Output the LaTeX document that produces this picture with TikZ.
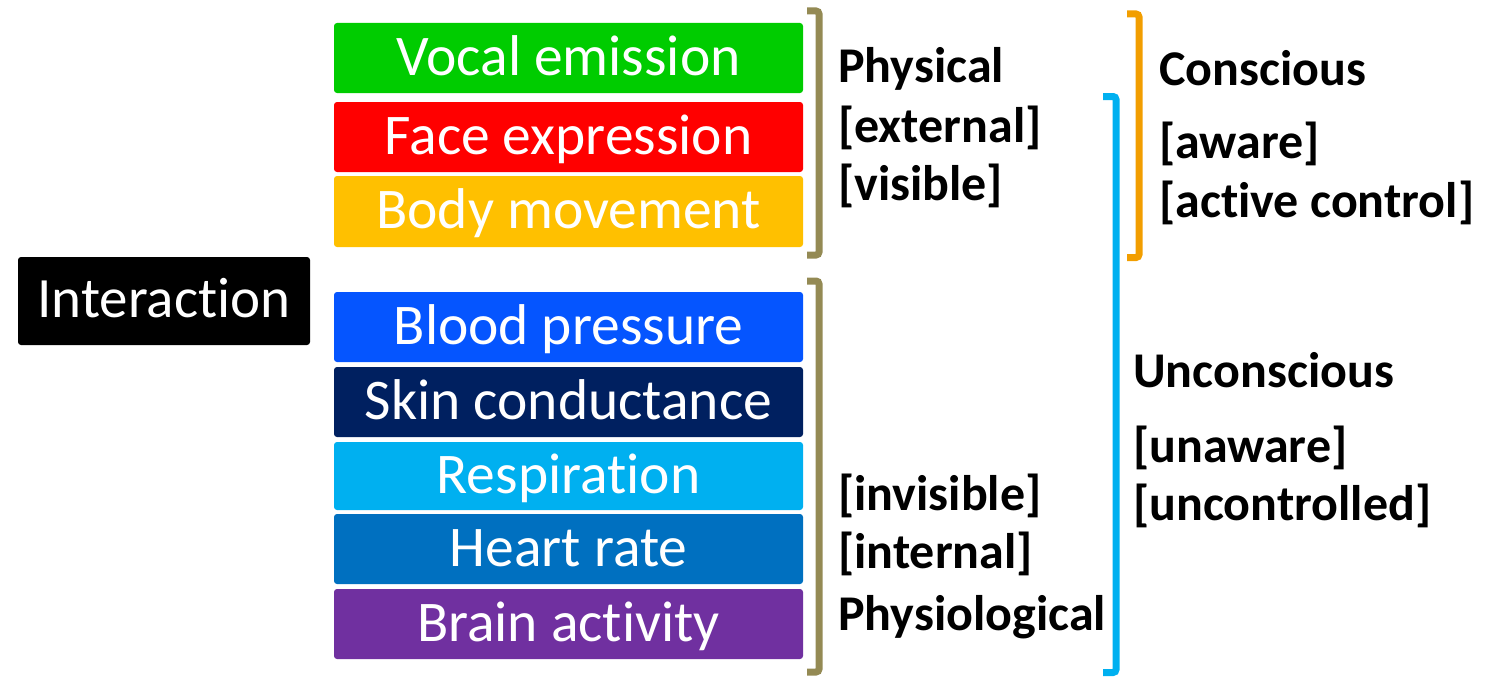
\documentclass[tikz,border=0pt]{standalone}
\usepackage{fontspec}
\setmainfont[Ligatures=NoCommon]{Carlito}
\definecolor{cgreen}{RGB}{0,204,0}
\definecolor{cred}{RGB}{255,0,0}
\definecolor{cyellow}{RGB}{255,192,0}
\definecolor{cblue}{RGB}{5,85,255}
\definecolor{cnavy}{RGB}{0,32,96}
\definecolor{ccyan}{RGB}{0,176,240}
\definecolor{cmid}{RGB}{0,112,192}
\definecolor{cpurple}{RGB}{112,48,160}
\definecolor{colive}{RGB}{148,138,84}
\definecolor{corange}{RGB}{242,158,0}
\begin{document}
\begin{tikzpicture}[x=1pt,y=-1pt,
  box/.style={fill=#1, text=white, rounded corners=3pt, minimum width=469pt,
    minimum height=70pt, inner sep=0pt, text height=40pt, text depth=6pt,
    font=\fontsize{57.5}{60}\selectfont},
  lbl/.style={anchor=base west, inner sep=0pt, font=\bfseries\fontsize{50}{52}\selectfont},
  brk/.style={line width=7pt, rounded corners=3pt}]
\useasboundingbox (0,0) rectangle (1505,693);
\node[fill=black, text=white, rounded corners=3pt, minimum width=292pt, minimum height=88pt,
  inner sep=0pt, text height=38pt, text depth=6pt, font=\fontsize{57}{60}\selectfont]
  (inter) at (164,301) {Interaction};
\node[box=cgreen] (vocal) at (568.5,58) {Vocal emission};
\node[box=cred] (face) at (568.5,137) {Face expression};
\node[box=cyellow, minimum height=71pt] (body) at (568.5,211.5) {Body movement};
\node[box=cblue] (blood) at (568.5,327) {Blood pressure};
\node[box=cnavy] (skin) at (568.5,402) {Skin conductance};
\node[box=ccyan, minimum height=68pt] (resp) at (568.5,476) {Respiration};
\node[box=cmid] (heart) at (568.5,549) {Heart rate};
\node[box=cpurple] (brain) at (568.5,624) {Brain activity};
% brackets
\draw[brk, colive] (807,11) -- (819,11) -- (819,255) -- (807,255);
\draw[brk, colive] (807,281) -- (819,281) -- (819,672) -- (807,672);
\draw[brk, corange] (1127,14) -- (1139,14) -- (1139,257.5) -- (1127,257.5);
\draw[brk, ccyan] (1103,96.5) -- (1116,96.5) -- (1116,672.5) -- (1103,672.5);
% labels
\node[lbl] (phys) at (838,82) {Physical};
\node[lbl] (ext) at (838,142) {[external]};
\node[lbl] (vis) at (838,200) {[visible]};
\node[lbl] (invis) at (838,510) {[invisible]};
\node[lbl] (int) at (838,568) {[internal]};
\node[lbl] (physio) at (838,630) {Physiological};
\node[lbl] (cons) at (1159,85) {Conscious};
\node[lbl] (aware) at (1159,158) {[aware]};
\node[lbl] (active) at (1159,217) {[active control]};
\node[lbl] (uncons) at (1133,387) {Unconscious};
\node[lbl] (unaware) at (1133,462) {[unaware]};
\node[lbl] (unctrl) at (1133,520) {[uncontrolled]};
\end{tikzpicture}
\end{document}
